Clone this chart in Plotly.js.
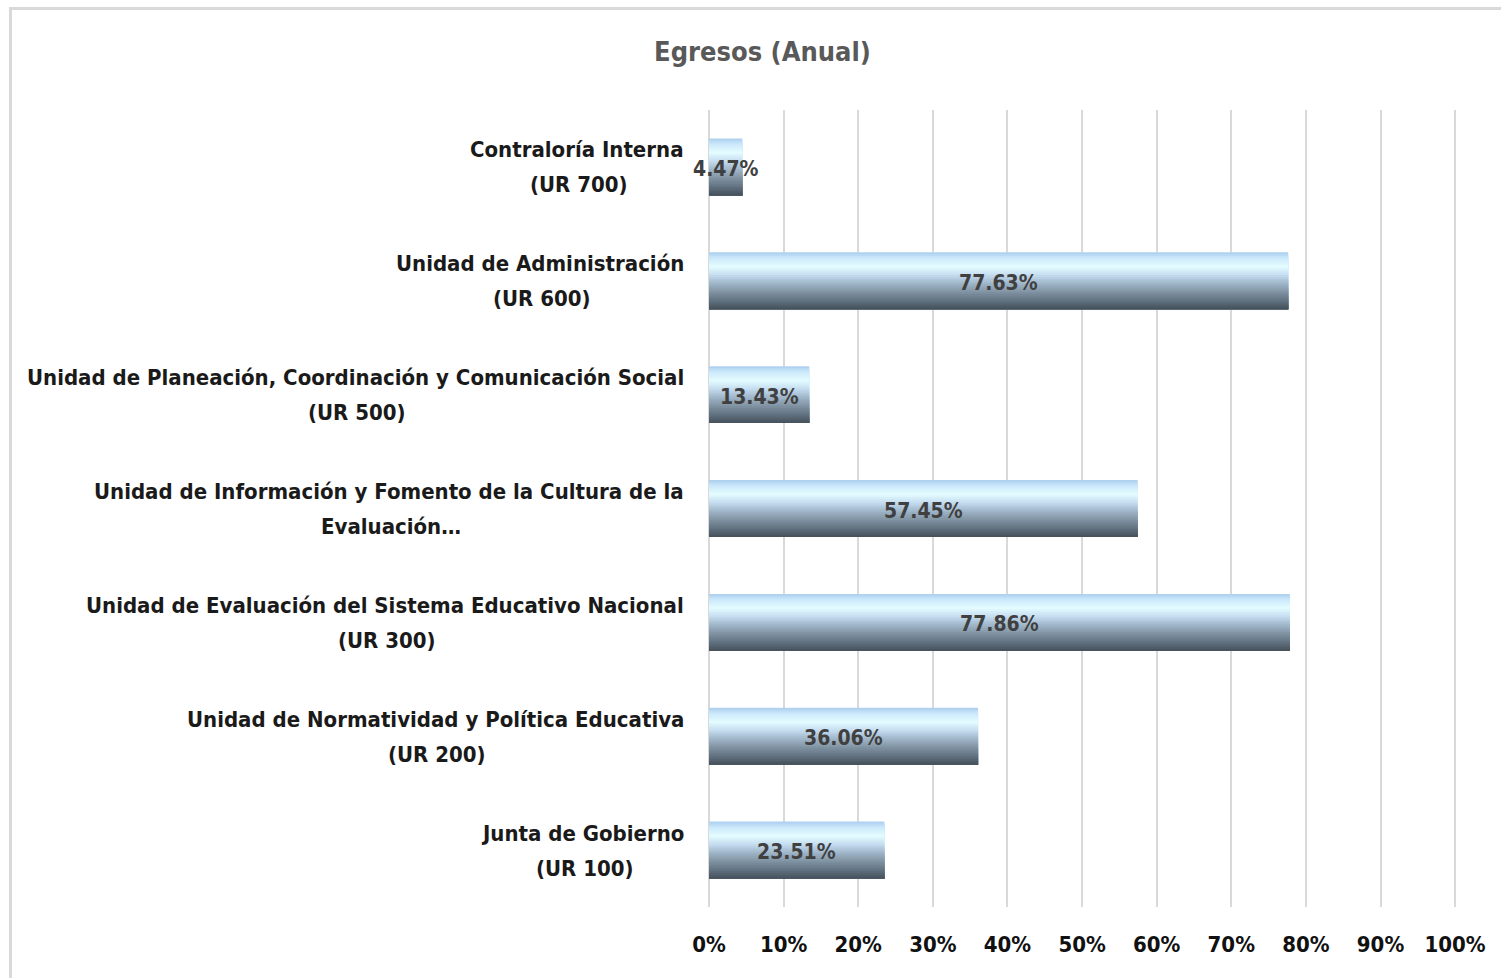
<!DOCTYPE html>
<html>
<head>
<meta charset="utf-8">
<script src="https://cdn.plot.ly/plotly-3.0.1.min.js"></script>
<style>
html,body{margin:0;padding:0;background:#fff;}
#wrap{position:relative;width:1501px;height:978px;overflow:hidden;}
#chart{position:absolute;left:0;top:0;width:1501px;height:978px;}
#frame{position:absolute;left:9px;top:7px;width:1600px;height:1100px;border-left:3px solid #d9d9d9;border-top:3px solid #d9d9d9;pointer-events:none;}
</style>
</head>
<body>
<div id="wrap"><div id="chart"></div><div id="frame"></div></div>
<script>
// Data (bottom to top)
const categories = ["UR 100","UR 200","UR 300","UR 400","UR 500","UR 600","UR 700"];
const labelLine1 = [
  "Junta de Gobierno",
  "Unidad de Normatividad y Política Educativa",
  "Unidad de Evaluación del Sistema Educativo Nacional",
  "Unidad de Información y Fomento de la Cultura de la",
  "Unidad de Planeación, Coordinación y Comunicación Social",
  "Unidad de Administración",
  "Contraloría Interna"
];
const labelLine2 = ["(UR 100)","(UR 200)","(UR 300)","Evaluación…","(UR 500)","(UR 600)","(UR 700)"];
const values = [23.51, 36.06, 77.86, 57.45, 13.43, 77.63, 4.47];
const tickVals = [0,10,20,30,40,50,60,70,80,90,100];
const tickText = ["0%","10%","20%","30%","40%","50%","60%","70%","80%","90%","100%"];
const title = "Egresos (Anual)";

const FONT = '"Liberation Sans Narrow", "DejaVu Sans Condensed", "Open Sans", sans-serif';
const LABEL_SIZE = 22;

// gradient stops (top -> bottom)
const stops = [
  [0.00, [169,205,238]],
  [0.10, [204,232,251]],
  [0.25, [228,252,255]],
  [0.40, [196,220,240]],
  [0.55, [159,181,200]],
  [0.70, [127,146,162]],
  [0.85, [98,114,128]],
  [1.00, [68,80,90]]
];
function colorAt(t){
  for(let i=0;i<stops.length-1;i++){
    const a=stops[i], b=stops[i+1];
    if(t>=a[0] && t<=b[0]){
      const f=(t-a[0])/(b[0]-a[0]);
      const c=a[1].map((v,k)=>Math.round(v+(b[1][k]-v)*f));
      return 'rgb('+c.join(',')+')';
    }
  }
  return 'rgb('+stops[stops.length-1][1].join(',')+')';
}

const barWidth = 0.5;
const N = 30;
const band = barWidth/N;
const traces = [];
// each band spans from the bar bottom up to its own top; drawn top band first
for(let i=0;i<N;i++){
  const h = barWidth - i*band;
  traces.push({
    type:'bar', orientation:'h',
    x: values, y: categories,
    width: h,
    offset: -barWidth/2,
    marker:{color: colorAt((i+0.5)/N), line:{width:0}},
    hoverinfo:'skip', showlegend:false
  });
}

// measure line widths to center line 2 under line 1
const cv = document.createElement('canvas').getContext('2d');
cv.font = 'bold ' + LABEL_SIZE + 'px ' + FONT;
const RIGHT_GAP = 23;
const annotations = [];
categories.forEach((c,i)=>{
  const w1 = cv.measureText(labelLine1[i]).width;
  annotations.push({
    xref:'paper', yref:'y', x:0, y:c, xanchor:'right', yanchor:'middle',
    xshift:-RIGHT_GAP, yshift:17,
    text: labelLine1[i], showarrow:false,
    font:{family:FONT, size:LABEL_SIZE, color:'#1a1a1a', weight:'bold'}
  });
  annotations.push({
    xref:'paper', yref:'y', x:0, y:c, xanchor:'center', yanchor:'middle',
    xshift:-RIGHT_GAP - w1/2, yshift:-18,
    text: labelLine2[i], showarrow:false,
    font:{family:FONT, size:LABEL_SIZE, color:'#1a1a1a', weight:'bold'}
  });
  // data label centred on the bar
  annotations.push({
    xref:'x', yref:'y', x:values[i]/2, y:c, xanchor:'center', yanchor:'middle',
    yshift:-2, text: values[i].toFixed(2)+'%', showarrow:false,
    font:{family:FONT, size:21, color:'#404040', weight:'bold'}
  });
});

const layout = {
  width:1501, height:978,
  margin:{l:709, r:44, t:110, b:71, pad:0},
  paper_bgcolor:'#ffffff', plot_bgcolor:'#ffffff',
  barmode:'overlay', bargap:0.5,
  title:{text:title, x:0.508, xref:'container', xanchor:'center', y:0.947, yref:'container', yanchor:'middle',
    font:{family:FONT, size:27, color:'#595959', weight:'bold'}},
  xaxis:{range:[0,100.25], tickvals:tickVals, ticktext:tickText, showgrid:true, gridcolor:'#d9d9d9', gridwidth:2,
    zeroline:true, zerolinecolor:'#d9d9d9', zerolinewidth:2, showline:false, ticks:'outside', ticklen:18, tickcolor:'rgba(0,0,0,0)',
    tickfont:{family:FONT, size:22, color:'#111111', weight:'bold'}, fixedrange:true},
  yaxis:{type:'category', categoryorder:'array', categoryarray:categories, showticklabels:false,
    showgrid:false, zeroline:false, showline:false, range:[-0.5,6.5], fixedrange:true},
  annotations: annotations,
  showlegend:false
};
Plotly.newPlot('chart', traces, layout, {displayModeBar:false, staticPlot:true});
</script>
</body>
</html>
